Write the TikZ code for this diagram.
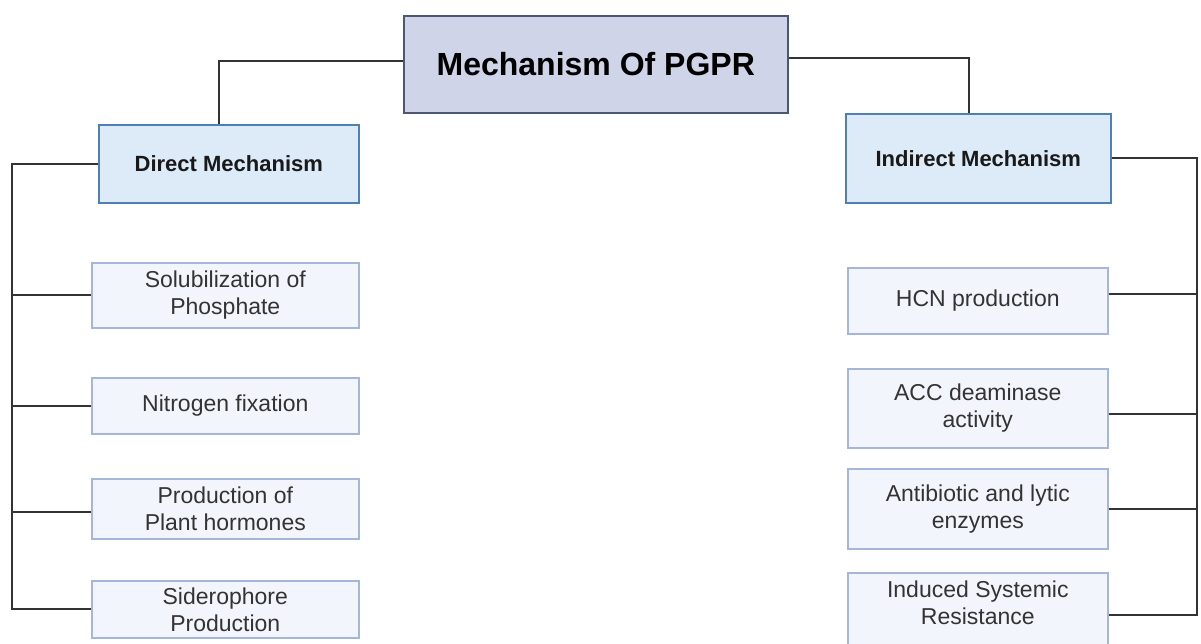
\documentclass[tikz,border=0pt]{standalone}
\usepackage{fontspec}
\setmainfont{Liberation Sans}
\definecolor{titlefill}{HTML}{CFD4E8}
\definecolor{titledraw}{HTML}{4B5775}
\definecolor{headfill}{HTML}{DDEAF8}
\definecolor{headdraw}{HTML}{4F80B4}
\definecolor{childfill}{HTML}{F2F5FB}
\definecolor{childdraw}{HTML}{A6B6D8}
\definecolor{linecol}{HTML}{333333}
\begin{document}
\begin{tikzpicture}[x=1pt,y=-1pt,
  box/.style={draw, rectangle, anchor=north west, inner sep=0pt, align=center, line width=1.6pt},
  titlebox/.style={box, fill=titlefill, draw=titledraw, font=\fontsize{32}{38}\selectfont\bfseries, text=black},
  headbox/.style={box, fill=headfill, draw=headdraw, font=\fontsize{22}{26}\selectfont\bfseries, text=black!90},
  childbox/.style={box, fill=childfill, draw=childdraw, font=\fontsize{23}{27}\selectfont, text=linecol},
  conn/.style={draw=linecol, line width=1.8pt}
]
\useasboundingbox (0,0) rectangle (1201,643);
% title and heads
\node[titlebox, minimum width=384pt, minimum height=97pt] (title) at (403,15) {Mechanism Of PGPR};
\node[headbox, minimum width=260pt, minimum height=78pt] (direct) at (98,124) {Direct Mechanism};
\node[headbox, minimum width=265pt, minimum height=89pt] (indirect) at (845,113) {Indirect Mechanism};
% left children
\node[childbox, minimum width=267pt, minimum height=65pt] (s1) at (91,262) {Solubilization of\\Phosphate};
\node[childbox, minimum width=267pt, minimum height=56pt] (s2) at (91,377) {Nitrogen fixation};
\node[childbox, minimum width=267pt, minimum height=60pt] (s3) at (91,478) {Production of\\Plant hormones};
\node[childbox, minimum width=267pt, minimum height=57pt] (s4) at (91,580) {Siderophore\\Production};
% right children
\node[childbox, minimum width=260pt, minimum height=66pt] (r1) at (847,267) {HCN production};
\node[childbox, minimum width=260pt, minimum height=79pt] (r2) at (847,368) {ACC deaminase\\activity};
\node[childbox, minimum width=260pt, minimum height=80pt] (r3) at (847,468) {Antibiotic and lytic\\enzymes};
\node[childbox, minimum width=260pt, minimum height=84pt] (r4) at (847,572) {};
\node[font=\fontsize{23}{27}\selectfont, text=linecol, align=center, anchor=north, inner sep=0pt] (r4t) at ([yshift=-9pt]r4.north) {Induced Systemic\\Resistance};
% title connectors
\draw[conn] ([yshift=3.5pt]title.west) -| ([xshift=-10pt]direct.north);
\draw[conn] ([yshift=6.5pt]title.east) -| ([xshift=-9.5pt]indirect.north);
% left trunk
\coordinate (trunkL) at (12,0);
\draw[conn] (direct.west) -- (direct.west -| trunkL) |- (s4.west);
\draw[conn] (s1.west) -- (s1.west -| trunkL);
\draw[conn] (s2.west) -- (s2.west -| trunkL);
\draw[conn] ([yshift=-3pt]s3.west) -- ([yshift=-3pt]s3.west -| trunkL);
% right trunk
\coordinate (trunkR) at (1197,0);
\draw[conn] (indirect.east) -- (indirect.east -| trunkR) |- (r4.east);
\draw[conn] ([yshift=7pt]r1.east) -- ([yshift=7pt]r1.east -| trunkR);
\draw[conn] ([yshift=-5.5pt]r2.east) -- ([yshift=-5.5pt]r2.east -| trunkR);
\draw[conn] (r3.east) -- (r3.east -| trunkR);
\end{tikzpicture}
\end{document}
